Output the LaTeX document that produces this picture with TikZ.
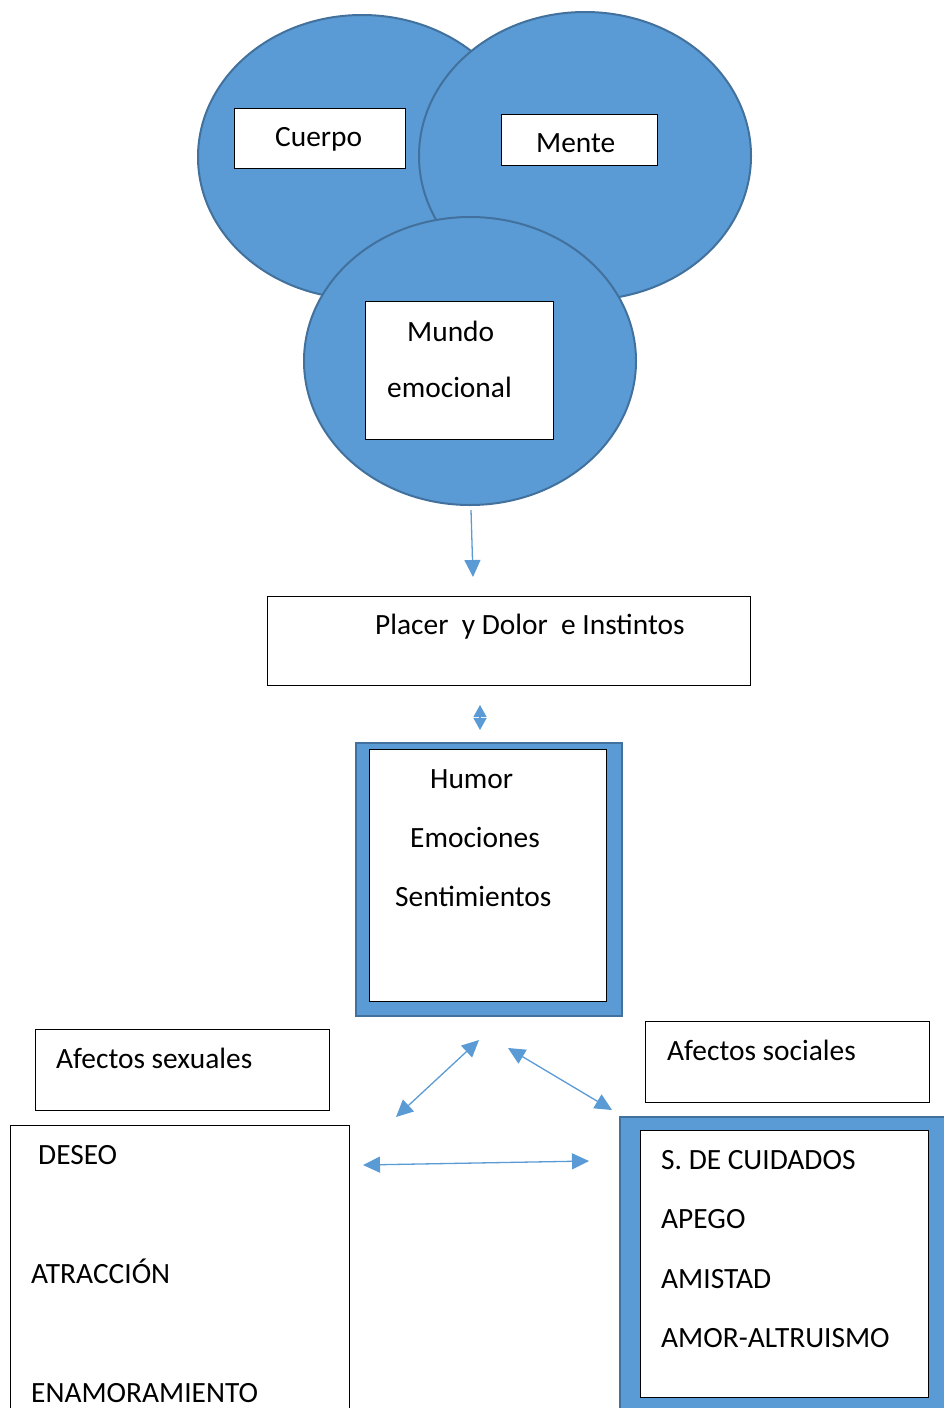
\documentclass[tikz,border=0pt]{standalone}
\usepackage{fontspec}
\setmainfont{Carlito}
\usetikzlibrary{arrows.meta,shapes.geometric}
\definecolor{ofblue}{HTML}{5B9BD5}
\definecolor{ofdark}{HTML}{41719C}
\begin{document}
\begin{tikzpicture}[x=1pt,y=-1pt,
  bubble/.style={ellipse,draw=ofdark,line width=2pt,fill=ofblue,inner sep=0pt},
  whitebox/.style={rectangle,draw=black,line width=1.1pt,fill=white,inner sep=0pt,anchor=north west},
  bluframe/.style={rectangle,draw=ofdark,line width=1.5pt,fill=ofblue,inner sep=0pt,anchor=north west},
  lbl/.style={anchor=base west,inner sep=0pt,font=\fontsize{29.4}{35}\selectfont},
  conntwo/.style={draw=ofblue,line width=1.3pt,{Triangle[length=17pt,width=16pt]}-{Triangle[length=17pt,width=16pt]}},
  connone/.style={draw=ofblue,line width=1.3pt,-{Triangle[length=17pt,width=16pt]}},
  connsmall/.style={draw=ofblue,line width=1.3pt,{Triangle[length=12pt,width=13pt]}-{Triangle[length=12pt,width=13pt]}}]
\useasboundingbox (0,0) rectangle (944,1408);
\clip (0,0) rectangle (944,1408);
% bubbles
\node[bubble,minimum width=328pt,minimum height=284pt] (cuerpoE) at (362,157) {};
\node[bubble,minimum width=332pt,minimum height=288pt] (menteE) at (585,156) {};
\node[bubble,minimum width=332pt,minimum height=288pt] (mundoE) at (470,361) {};
% labels in bubbles
\node[whitebox,minimum width=171pt,minimum height=60pt] (cuerpoB) at (234,108) {};
\node[lbl] (cuerpoT) at (275,146) {Cuerpo};
\node[whitebox,minimum width=156pt,minimum height=51pt] (menteB) at (501,114) {};
\node[lbl] (menteT) at (536,152) {Mente};
\node[whitebox,minimum width=188pt,minimum height=138pt] (mundoB) at (365,301) {};
\node[lbl] (mundoT1) at (407,341) {Mundo};
\node[lbl] (mundoT2) at (387,397) {emocional};
% placer
\node[whitebox,minimum width=483pt,minimum height=89pt] (placerB) at (267,596) {};
\node[lbl] (placerT) at (375,634) {Placer\ \ y Dolor\ \ e Instintos};
% humor
\node[bluframe,minimum width=266pt,minimum height=273pt] (humorF) at (355,742) {};
\node[whitebox,minimum width=237pt,minimum height=252pt] (humorB) at (369,749) {};
\node[lbl] (humorT1) at (430,788) {Humor};
\node[lbl] (humorT2) at (410,847) {Emociones};
\node[lbl] (humorT3) at (395,906) {Sentimientos};
% afectos
\node[whitebox,minimum width=294pt,minimum height=81pt] (sexB) at (35,1029) {};
\node[lbl] (sexT) at (56,1068) {Afectos sexuales};
\node[whitebox,minimum width=284pt,minimum height=81pt] (socB) at (645,1021) {};
\node[lbl] (socT) at (667,1060) {Afectos sociales};
% deseo box
\node[whitebox,minimum width=339pt,minimum height=300pt] (deseoB) at (10,1125) {};
\node[lbl] (deseoT1) at (38,1164) {DESEO};
\node[lbl] (deseoT2) at (31,1283) {ATRACCIÓN};
\node[lbl] (deseoT3) at (31,1402) {ENAMORAMIENTO};
% social box
\node[bluframe,minimum width=340pt,minimum height=300pt] (cuidF) at (619,1116) {};
\node[whitebox,minimum width=288pt,minimum height=267pt] (cuidB) at (640,1130) {};
\node[lbl] (cuidT1) at (661,1169) {S. DE CUIDADOS};
\node[lbl] (cuidT2) at (661,1228) {APEGO};
\node[lbl] (cuidT3) at (661,1288) {AMISTAD};
\node[lbl] (cuidT4) at (661,1347) {AMOR-ALTRUISMO};
% connectors
\coordinate (a1s) at (471,510);
\coordinate (a1e) at (473,577);
\draw[connone] (a1s) -- (a1e);
\coordinate (a2s) at (480,705);
\coordinate (a2e) at (480,730);
\draw[connsmall] (a2s) -- (a2e);
\coordinate (a3s) at (479,1040);
\coordinate (a3e) at (396,1117);
\draw[conntwo] (a3s) -- (a3e);
\coordinate (a4s) at (508,1048);
\coordinate (a4e) at (612,1110);
\draw[conntwo] (a4s) -- (a4e);
\coordinate (a5s) at (363,1165);
\coordinate (a5e) at (589,1161);
\draw[conntwo] (a5s) -- (a5e);
\end{tikzpicture}
\end{document}
